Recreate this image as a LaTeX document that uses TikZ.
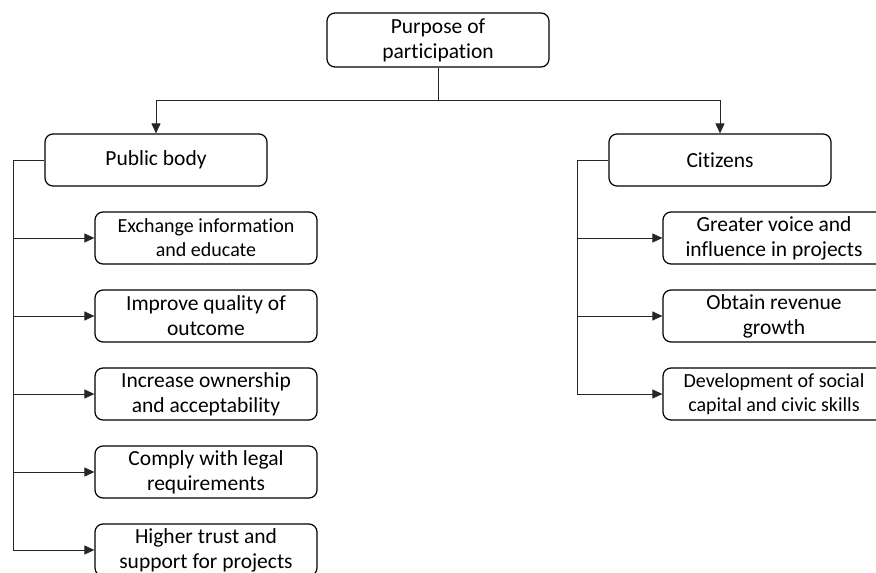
\documentclass[tikz,border=0pt]{standalone}
\usepackage{fontspec}
\setmainfont[Ligatures={NoCommon,NoContextual}]{Carlito}
\usetikzlibrary{arrows.meta}
\begin{document}
\begin{tikzpicture}[x=1pt,y=-1pt,
  box/.style={draw=black,line width=1.2pt,rounded corners=8pt,fill=white,
    minimum width=222pt,minimum height=52pt,align=center,inner sep=2pt,
    font=\fontsize{21.5}{25}\selectfont},
  smallbox/.style={box,font=\fontsize{20}{24}\selectfont},
  conn/.style={draw=black!85,line width=1pt},
  arr/.style={conn,-{Triangle[length=10pt,width=9pt]}}]
\useasboundingbox (0,0) rectangle (876,573);
\clip (0,0) rectangle (876,573);

% root and the two branches
\node[box,minimum height=54pt] (root) at (438,40) {Purpose of\\participation};
\node[box] (pub) at (156,160) {Public body};
\node[box] (cit) at (720,160) {Citizens};

\coordinate (split) at (438,100);
\draw[conn] (root.south) -- (split);
\draw[arr] (split) -| (pub.north);
\draw[arr] (split) -| (cit.north);

% purposes of the public body
\node[smallbox] (p1) at (206,238) {Exchange information\\and educate};
\node[box] (p2) at (206,316) {Improve quality of\\outcome};
\node[box] (p3) at (206,394) {Increase ownership\\and acceptability};
\node[box] (p4) at (206,472) {Comply with legal\\requirements};
\node[box] (p5) at (206,550) {Higher trust and\\support for projects};

\coordinate (spineL) at (13,160);
\draw[conn] (pub.west) -- (spineL) -- (p5.west -| spineL);
\foreach \n in {p1,p2,p3,p4,p5}
  \draw[arr] (\n.west -| spineL) -- (\n.west);

% purposes of the citizens
\node[box] (c1) at (774,238) {Greater voice and\\influence in projects};
\node[box] (c2) at (774,316) {Obtain revenue\\growth};
\node[smallbox] (c3) at (774,394) {Development of social\\capital and civic skills};

\coordinate (spineR) at (577,160);
\draw[conn] (cit.west) -- (spineR) -- (c3.west -| spineR);
\foreach \n in {c1,c2,c3}
  \draw[arr] (\n.west -| spineR) -- (\n.west);
\end{tikzpicture}
\end{document}
